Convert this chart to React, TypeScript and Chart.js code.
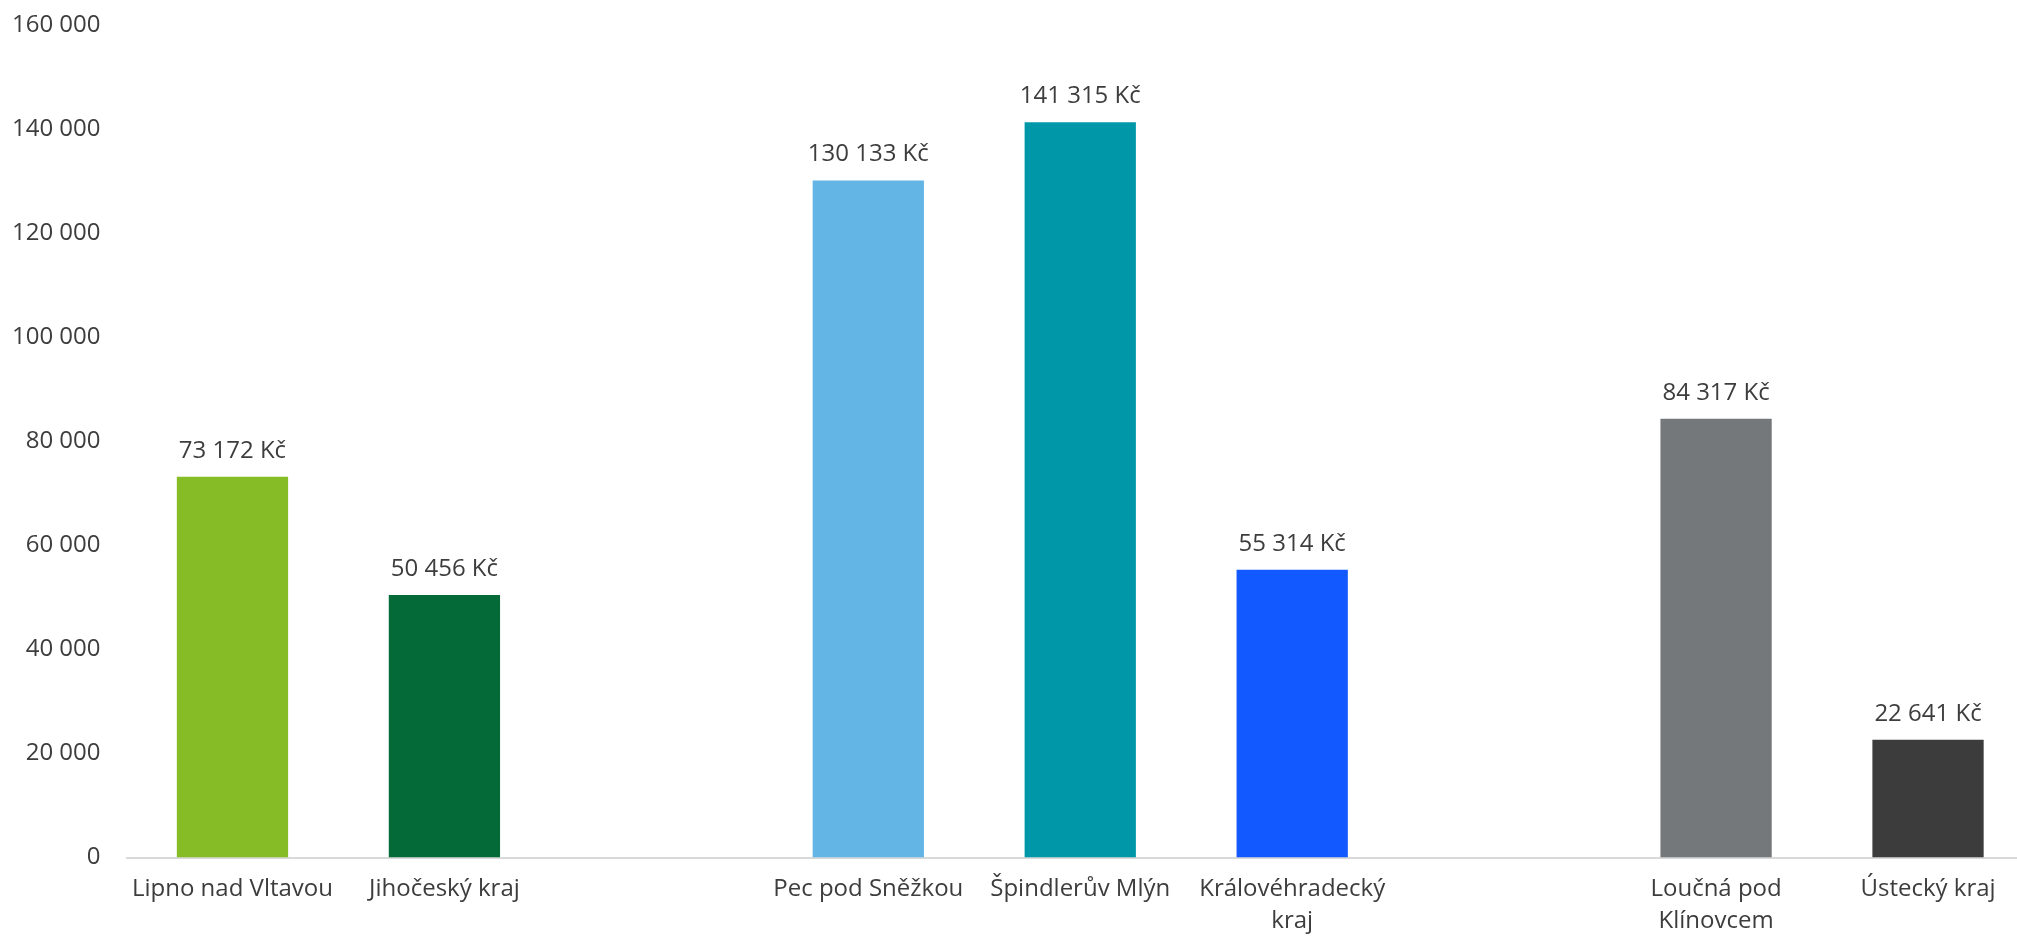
import React, { useEffect, useRef } from "react";
import { Chart, registerables } from "chart.js";

Chart.register(...registerables);

const categories: (string | string[])[] = [
  "Lipno nad Vltavou",
  "Jihočeský kraj",
  "",
  "Pec pod Sněžkou",
  "Špindlerův Mlýn",
  ["Královéhradecký", "kraj"],
  "",
  ["Loučná pod", "Klínovcem"],
  "Ústecký kraj",
];

const values: (number | null)[] = [73172, 50456, null, 130133, 141315, 55314, null, 84317, 22641];

const barColors: string[] = [
  "#86BC25",
  "#046A38",
  "#ffffff",
  "#62B5E5",
  "#0097A9",
  "#1259FF",
  "#ffffff",
  "#75787B",
  "#3C3C3C",
];

const yTicks: number[] = [0, 20000, 40000, 60000, 80000, 100000, 120000, 140000, 160000];

const FONT = "'Open Sans', sans-serif";
const TEXT_COLOR = "#3d3d3d";

const fmt = (v: number) => String(v).replace(/\B(?=(\d{3})+(?!\d))/g, " ");

const valueLabels = {
  id: "valueLabels",
  afterDatasetsDraw(chart: any) {
    const ctx = chart.ctx;
    const meta = chart.getDatasetMeta(0);
    ctx.save();
    ctx.font = `24px ${FONT}`;
    ctx.fillStyle = TEXT_COLOR;
    ctx.textAlign = "center";
    ctx.textBaseline = "middle";
    meta.data.forEach((bar: any, i: number) => {
      const v = values[i];
      if (v == null) return;
      ctx.fillText(`${fmt(v)} Kč`, bar.x, bar.y - 26);
    });
    ctx.restore();
  },
};

export default function App() {
  const ref = useRef<HTMLCanvasElement | null>(null);
  useEffect(() => {
    if (!ref.current) return;
    const chart = new Chart(ref.current, {
      type: "bar",
      data: {
        labels: categories,
        datasets: [
          {
            data: values,
            backgroundColor: barColors,
            barPercentage: 0.525,
            categoryPercentage: 1,
          },
        ],
      },
      options: {
        responsive: false,
        animation: false,
        maintainAspectRatio: false,
        layout: { padding: { top: 25, right: 16, bottom: 0, left: 0 } },
        plugins: {
          legend: { display: false },
          tooltip: { enabled: false },
        },
        scales: {
          x: {
            grid: { display: false, drawTicks: false },
            border: { display: true, color: "#d9d9d9", width: 2 },
            ticks: {
              color: TEXT_COLOR,
              font: { family: FONT, size: 24, lineHeight: 1.333 },
              padding: 16,
              maxRotation: 0,
              autoSkip: false,
            },
            afterFit(scale: any) {
              scale.height = 79.5;
              scale.paddingLeft = 0;
              scale.paddingRight = 0;
            },
          },
          y: {
            min: 0,
            max: 160000,
            grid: { display: false, drawTicks: false },
            border: { display: false },
            afterBuildTicks(scale: any) {
              scale.ticks = yTicks.map((v) => ({ value: v }));
            },
            ticks: {
              color: TEXT_COLOR,
              font: { family: FONT, size: 24 },
              padding: 26,
              callback: (v: any) => fmt(Number(v)),
            },
            afterFit(scale: any) {
              scale.width = 126.5;
              scale.paddingTop = 0;
              scale.paddingBottom = 0;
            },
          },
        },
      },
      plugins: [valueLabels],
    });
    return () => chart.destroy();
  }, []);
  return (
    <div
      style={{
        position: "fixed",
        left: 0,
        top: 0,
        width: "2017px",
        height: "937px",
        overflow: "hidden",
        background: "#fff",
      }}
    >
      <canvas ref={ref} width={2050} height={937} style={{ display: "block" }} />
    </div>
  );
}
